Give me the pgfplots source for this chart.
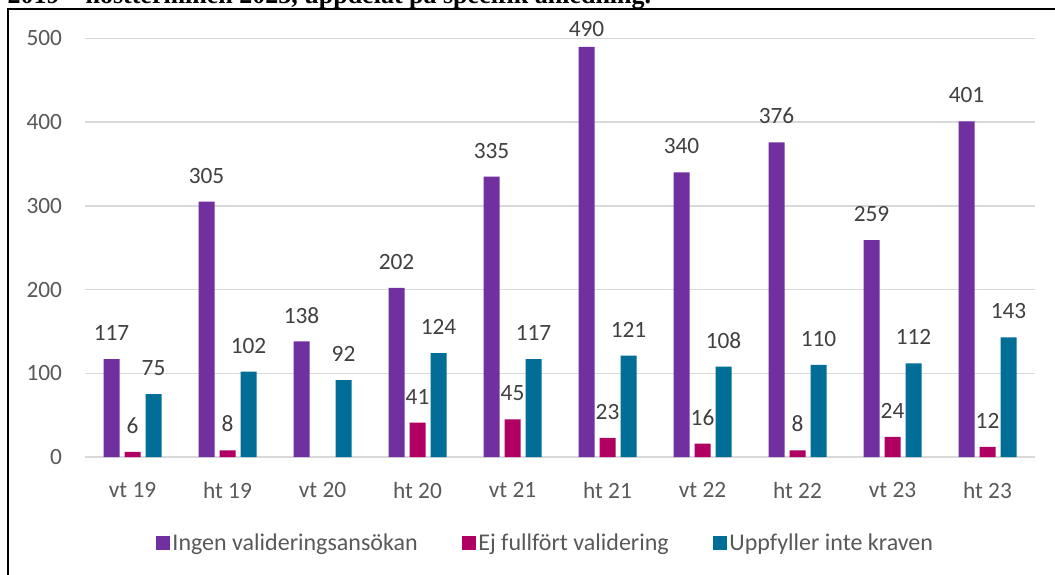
\documentclass[border=0pt]{standalone}
\usepackage{pgfplots}
\pgfplotsset{compat=1.18}
\usepackage{fontspec}
\setmainfont{Carlito}
\newfontfamily\titlefont{Liberation Serif}
\definecolor{cPur}{HTML}{7030A0}
\definecolor{cPink}{HTML}{B00062}
\definecolor{cTeal}{HTML}{006E96}
\definecolor{cGrid}{HTML}{D9D9D9}
\definecolor{cTick}{HTML}{595959}
\definecolor{cLab}{HTML}{404040}
\begin{document}
\begin{tikzpicture}
\useasboundingbox (0pt,0pt) rectangle (791.25pt,-430.5pt);
\clip (0pt,0pt) rectangle (791.25pt,-430.5pt);
\fill[white] (0pt,0pt) rectangle (791.25pt,-430.5pt);
\node[anchor=base west, inner sep=0pt, font=\titlefont\bfseries\fontsize{19.5}{23}\selectfont] at (5.5pt,-2.6pt) {2019 – höstterminen 2023, uppdelat på specifik anledning.};
\draw[line width=1.5pt] (6pt,-440pt) -- (6pt,-6.6pt) -- (800pt,-6.6pt);
\begin{axis}[
  at={(63.75pt,-342.75pt)}, anchor=south west,
  scale only axis, width=712.5pt, height=313.875pt,
  ybar=3.75pt, bar width=12pt,
  xmin=-0.5, xmax=9.5, ymin=0, ymax=500,
  xtick={0,...,9},
  xticklabels={vt 19,ht 19,vt 20,ht 20,vt 21,ht 21,vt 22,ht 22,vt 23,ht 23},
  ytick={0,100,...,500},
  axis x line*=bottom, axis y line*=left,
  x axis line style={draw=cGrid, line width=1.1pt, -},
  y axis line style={draw=none},
  ymajorgrids, grid style={draw=cGrid, line width=1.1pt},
  major tick length=0pt,
  tick style={draw=none},
  /pgf/number format/assume math mode=true,
  ticklabel style={font=\fontsize{17.5}{21}\selectfont, text=cTick},
  yticklabel style={anchor=east, inner sep=0pt, xshift=-17pt},
  xticklabel style={anchor=north, inner sep=0pt, yshift=-19pt},
  nodes near coords,
  visualization depends on={y \as \rawy},
  every node near coord/.append style={anchor=south, inner sep=0pt, yshift={ifthenelse(\rawy>480,7.5,13.5)*1pt}, font=\fontsize{17.5}{21}\selectfont, text=cLab, /pgf/number format/assume math mode=true},
  legend columns=3,
  legend style={draw=none, fill=none, at={(0.485,-0.2055)}, anchor=center,
    font=\fontsize{18}{21}\selectfont, text=cTick,
    /tikz/every even column/.append style={column sep=31pt}},
  legend image code/.code={\fill[#1] (0pt,-5.25pt) rectangle (10.5pt,5.25pt);},
]
\addplot[fill=cPur, draw=none] coordinates {(0,117) (1,305) (2,138) (3,202) (4,335) (5,490) (6,340) (7,376) (8,259) (9,401)};
\addplot[fill=cPink, draw=none] coordinates {(0,6) (1,8) (3,41) (4,45) (5,23) (6,16) (7,8) (8,24) (9,12)};
\addplot[fill=cTeal, draw=none] coordinates {(0,75) (1,102) (2,92) (3,124) (4,117) (5,121) (6,108) (7,110) (8,112) (9,143)};
\legend{Ingen valideringsansökan, Ej fullfört validering, Uppfyller inte kraven}
\end{axis}
\end{tikzpicture}
\end{document}
